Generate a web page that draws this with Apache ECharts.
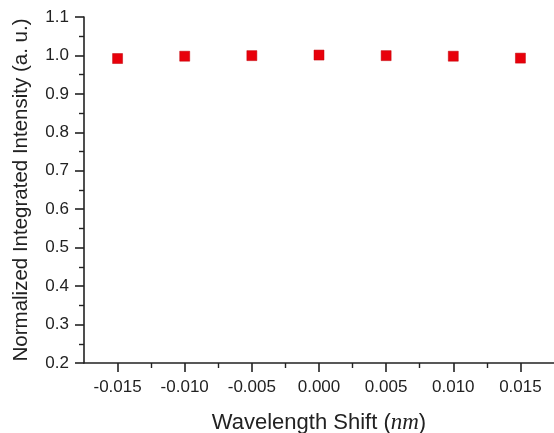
<!DOCTYPE html>
<html>
<head>
<meta charset="utf-8">
<script src="https://cdn.jsdelivr.net/npm/echarts@6/dist/echarts.min.js"></script>
<style>
html, body { margin: 0; padding: 0; background: #fff; }
#chart { width: 554px; height: 433px; }
</style>
</head>
<body>
<div id="chart"></div>
<script>
// wavelength shift (nm) and normalized intensity
var shiftVals = [-0.015, -0.010, -0.005, 0.000, 0.005, 0.010, 0.015];
var intensityVals = [0.992, 0.998, 0.9995, 1.001, 0.9995, 0.998, 0.993];
var xMajorTicks = [-0.015, -0.010, -0.005, 0.000, 0.005, 0.010, 0.015];
var xMinorTicks = [-0.0125, -0.0075, -0.0025, 0.0025, 0.0075, 0.0125];

var points = [];
for (var i = 0; i < shiftVals.length; i++) {
	points.push([shiftVals[i], intensityVals[i]]);
}

var fontName = 'Liberation Sans, Arial, sans-serif';
var axisColor = '#222';

var chart = echarts.init(document.getElementById('chart'));
var option = {
	animation : false,
	backgroundColor : '#fff',
	grid : {
		left : 84,
		right : 0,
		top : 17,
		bottom : 70,
		outerBoundsMode : 'none'
	},
	xAxis : [ {
		type : 'value',
		min : -0.0175,
		max : 0.0175,
		name : 'Wavelength Shift ({i|nm})',
		nameLocation : 'middle',
		nameGap : 48,
		nameTextStyle : {
			fontFamily : fontName,
			fontSize : 22,
			color : axisColor,
			rich : {
				i : {
					fontFamily : 'Liberation Serif, DejaVu Serif, serif',
					fontStyle : 'italic',
					fontSize : 23,
					color : axisColor
				}
			}
		},
		splitLine : { show : false },
		axisLine : {
			lineStyle : { color : axisColor, width : 1.6 }
		},
		axisTick : {
			customValues : xMajorTicks,
			length : 9,
			lineStyle : { color : axisColor, width : 1.6 }
		},
		axisLabel : {
			customValues : xMajorTicks,
			margin : 16,
			fontFamily : fontName,
			fontSize : 17,
			color : axisColor,
			formatter : function(v) {
				return v.toFixed(3);
			}
		}
	}, {
		// minor ticks only
		type : 'value',
		position : 'bottom',
		min : -0.0175,
		max : 0.0175,
		splitLine : { show : false },
		axisLine : { show : false },
		axisLabel : { show : false },
		axisTick : {
			customValues : xMinorTicks,
			length : 5,
			lineStyle : { color : axisColor, width : 1.4 }
		}
	} ],
	yAxis : {
		type : 'value',
		min : 0.2,
		max : 1.1,
		interval : 0.1,
		name : 'Normalized Integrated Intensity (a. u.)',
		nameLocation : 'middle',
		nameGap : 52,
		nameTextStyle : {
			fontFamily : fontName,
			fontSize : 20.5,
			color : axisColor
		},
		splitLine : { show : false },
		axisLine : {
			show : true,
			onZero : false,
			lineStyle : { color : axisColor, width : 1.6 }
		},
		axisTick : {
			show : true,
			length : 9,
			lineStyle : { color : axisColor, width : 1.6 }
		},
		minorTick : {
			show : true,
			splitNumber : 2,
			length : 5,
			lineStyle : { color : axisColor, width : 1.4 }
		},
		axisLabel : {
			margin : 15,
			fontFamily : fontName,
			fontSize : 17,
			color : axisColor,
			formatter : function(v) {
				return v.toFixed(1);
			}
		}
	},
	series : [ {
		type : 'scatter',
		symbol : 'rect',
		symbolSize : 10,
		itemStyle : {
			color : '#e8000b',
			opacity : 1,
			borderColor : '#c00008',
			borderWidth : 0.5
		},
		data : points
	} ]
};
chart.setOption(option);
</script>
</body>
</html>
